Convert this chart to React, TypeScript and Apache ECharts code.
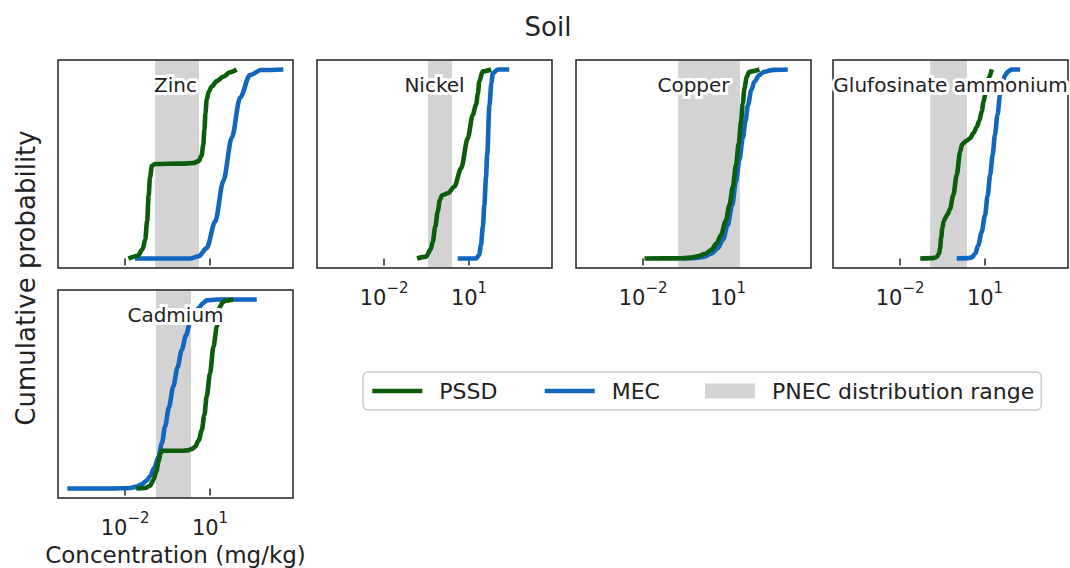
import React, { useEffect, useRef } from 'react';
import * as echarts from 'echarts';

// ---- data (x = log10 concentration in mg/kg, y = cumulative probability) ----
const panelNames = ['Zinc', 'Nickel', 'Copper', 'Glufosinate ammonium', 'Cadmium'];
const xTickExponents = [-2, 1];

const zincPSSD: number[][] = [
  [-1.88, 0], [-1.55, 0.015], [-1.38, 0.05], [-1.29, 0.1], [-1.22, 0.2], [-1.17, 0.33], [-1.12, 0.43],
  [-1.05, 0.49], [-0.95, 0.5], [0.0, 0.502], [0.4, 0.505], [0.6, 0.515], [0.7, 0.545], [0.76, 0.6],
  [0.8, 0.68], [0.84, 0.77], [0.88, 0.84], [0.96, 0.885], [1.06, 0.91], [1.25, 0.94], [1.47, 0.962],
  [1.7, 0.985], [1.94, 1.0],
];
const zincMEC: number[][] = [
  [-1.65, 0], [0.3, 0], [0.6, 0.012], [0.88, 0.055], [1.18, 0.195], [1.47, 0.41], [1.77, 0.64],
  [2.06, 0.85], [2.41, 0.97], [2.8, 0.997], [3.59, 1.0],
];
const nickelPSSD: number[][] = [
  [-0.835, 0], [-0.52, 0.01], [-0.35, 0.05], [-0.28, 0.09], [-0.19, 0.17], [-0.105, 0.25], [-0.03, 0.31],
  [0.05, 0.335], [0.25, 0.345], [0.48, 0.38], [0.72, 0.477], [0.955, 0.636], [1.13, 0.759], [1.25, 0.815],
  [1.31, 0.87], [1.36, 0.935], [1.48, 0.99], [1.78, 1.0],
];
const nickelMEC: number[][] = [
  [0.6, 0], [1.25, 0], [1.36, 0.02], [1.42, 0.07], [1.49, 0.17], [1.54, 0.283], [1.6, 0.43], [1.64, 0.548],
  [1.72, 0.81], [1.79, 0.93], [1.84, 0.98], [2.01, 1.0], [2.42, 1.0],
];
const copperPSSD: number[][] = [
  [-1.95, 0], [-0.78, 0.001], [-0.3, 0.005], [-0.07, 0.012], [0.2, 0.025], [0.4, 0.045], [0.6, 0.08],
  [0.75, 0.124], [0.92, 0.2], [1.05, 0.283], [1.17, 0.38], [1.28, 0.495], [1.38, 0.61], [1.46, 0.724],
  [1.52, 0.82], [1.58, 0.9], [1.66, 0.96], [1.75, 0.988], [2.11, 1.0],
];
const copperMEC: number[][] = [
  [-0.66, 0], [-0.2, 0.002], [0.16, 0.01], [0.4, 0.025], [0.64, 0.054], [0.82, 0.1], [0.99, 0.177],
  [1.14, 0.28], [1.28, 0.406], [1.4, 0.52], [1.52, 0.636], [1.62, 0.73], [1.7, 0.81], [1.82, 0.89],
  [1.93, 0.935], [2.1, 0.97], [2.28, 0.988], [2.6, 0.998], [3.11, 1.0],
];
const glufosinatePSSD: number[][] = [
  [-1.29, 0], [-0.85, 0.002], [-0.7, 0.008], [-0.63, 0.025], [-0.59, 0.054], [-0.55, 0.11], [-0.51, 0.16],
  [-0.46, 0.195], [-0.41, 0.213], [-0.32, 0.235], [-0.24, 0.26], [-0.12, 0.336], [0.0, 0.442],
  [0.12, 0.565], [0.18, 0.6], [0.23, 0.61], [0.35, 0.623], [0.47, 0.636], [0.6, 0.665], [0.71, 0.697],
  [0.8, 0.73], [0.88, 0.777], [0.95, 0.83], [1.0, 0.865], [1.06, 0.91], [1.12, 0.953], [1.24, 1.0],
];
const glufosinateMEC: number[][] = [
  [0.0, 0], [0.4, 0.002], [0.53, 0.006], [0.65, 0.025], [0.76, 0.07], [0.88, 0.14], [1.0, 0.23],
  [1.09, 0.33], [1.18, 0.442], [1.27, 0.55], [1.35, 0.655], [1.44, 0.76], [1.53, 0.865], [1.62, 0.93],
  [1.71, 0.97], [1.82, 0.99], [1.94, 1.0], [2.24, 1.0],
];
const cadmiumPSSD: number[][] = [
  [-1.61, 0], [-1.29, 0.003], [-1.12, 0.015], [-1.0, 0.045], [-0.9, 0.09], [-0.82, 0.142], [-0.75, 0.185],
  [-0.7, 0.2], [0.0, 0.2], [0.23, 0.202], [0.37, 0.21], [0.47, 0.221], [0.6, 0.255], [0.71, 0.31],
  [0.8, 0.39], [0.88, 0.486], [1.0, 0.61], [1.12, 0.75], [1.24, 0.856], [1.35, 0.962], [1.45, 0.985],
  [1.53, 0.994], [1.82, 1.0],
];
const cadmiumMEC: number[][] = [
  [-4.04, 0], [-2.5, 0.0], [-1.82, 0.003], [-1.6, 0.01], [-1.41, 0.022], [-1.25, 0.04], [-1.12, 0.065],
  [-0.97, 0.11], [-0.82, 0.168], [-0.7, 0.24], [-0.59, 0.327], [-0.45, 0.43], [-0.3, 0.539],
  [-0.15, 0.64], [0.0, 0.733], [0.15, 0.81], [0.29, 0.874], [0.44, 0.92], [0.59, 0.953], [0.75, 0.98],
  [0.88, 0.995], [1.24, 1.0], [2.65, 1.0],
];
// PNEC distribution range (log10 mg/kg), per panel
const pnecRanges: number[][] = [
  [-0.94, 0.61], [-0.45, 0.4], [-0.76, 1.42], [-0.94, 0.36], [-0.91, 0.33],
];
const pssdSeries = [zincPSSD, nickelPSSD, copperPSSD, glufosinatePSSD, cadmiumPSSD];
const mecSeries = [zincMEC, nickelMEC, copperMEC, glufosinateMEC, cadmiumMEC];

// ---- layout / style ----
const FONT = 'DejaVu Sans';
const TEXT = '#222222';
const GREEN = '#0b5d0b';
const BLUE = '#1167be';
const GRAY = '#d3d3d3';
const LINE_W = 4.6;
const PANEL_W = 235;
const PANEL_H = 208;
const panelPos = [[58, 60], [317, 60], [576, 60], [833, 60], [58, 290]];
const X_MIN = -4.37;
const X_MAX = 3.93;

export default function App() {
  const ref = useRef<HTMLDivElement>(null);
  useEffect(() => {
    if (!ref.current) return;
    const chart = echarts.init(ref.current, undefined, { renderer: 'svg' });

    const grids = panelPos.map(([l, t]) => ({
      left: l, top: t, width: PANEL_W, height: PANEL_H, show: false, containLabel: false, outerBoundsMode: 'none',
    }));

    const xAxes = panelPos.map((_, i) => ({
      type: 'value', gridIndex: i, min: X_MIN, max: X_MAX,
      splitLine: { show: false },
      axisLine: { show: false },
      axisTick: {
        show: true, customValues: xTickExponents, length: 7, inside: false,
        lineStyle: { color: TEXT, width: 1.5 },
      },
      axisLabel: {
        show: i !== 0, customValues: xTickExponents, margin: 12,
        formatter: (v: number) => `{b|10}{s|${v < 0 ? '\u2212' : ''}${Math.abs(v)}}`,
        rich: {
          b: { fontSize: 21, fontFamily: FONT, color: TEXT, padding: [7, 0, 0, 0] },
          s: { fontSize: 15, fontFamily: FONT, color: TEXT, verticalAlign: 'top' },
        },
      },
      name: i === 4 ? 'Concentration (mg/kg)' : '',
      nameLocation: 'middle', nameGap: 45,
      nameTextStyle: { fontSize: 23, fontFamily: FONT, color: TEXT },
    }));

    const yAxes = panelPos.map((_, i) => ({
      type: 'value', gridIndex: i, min: -0.05, max: 1.05, show: false,
      splitLine: { show: false },
    }));

    const series: any[] = [];
    panelPos.forEach((_, i) => {
      series.push({
        name: 'PNEC distribution range', type: 'line', xAxisIndex: i, yAxisIndex: i, data: [],
        itemStyle: { color: GRAY }, lineStyle: { color: GRAY }, z: 1,
        markArea: {
          silent: true, itemStyle: { color: GRAY, opacity: 1 },
          data: [[{ xAxis: pnecRanges[i][0] }, { xAxis: pnecRanges[i][1] }]],
        },
      });
      series.push({
        name: 'MEC', type: 'line', xAxisIndex: i, yAxisIndex: i, data: mecSeries[i],
        symbol: 'none', showSymbol: false, smooth: 0.3, smoothMonotone: 'x', z: 3,
        lineStyle: { color: BLUE, width: LINE_W }, itemStyle: { color: BLUE },
      });
      series.push({
        name: 'PSSD', type: 'line', xAxisIndex: i, yAxisIndex: i, data: pssdSeries[i],
        symbol: 'none', showSymbol: false, smooth: 0.3, smoothMonotone: 'x', z: 4,
        lineStyle: { color: GREEN, width: LINE_W }, itemStyle: { color: GREEN },
      });
    });

    const graphics: any[] = [];
    panelPos.forEach(([l, t], i) => {
      graphics.push({
        type: 'rect', z: 10, silent: true,
        shape: { x: l, y: t, width: PANEL_W, height: PANEL_H },
        style: { fill: 'transparent', stroke: TEXT, lineWidth: 1.5 },
      });
      graphics.push({
        type: 'text', z: 11, silent: true, x: l + PANEL_W / 2, y: t + 25,
        style: {
          text: panelNames[i], fontSize: 20, fontFamily: FONT, fill: '#ffffff',
          stroke: '#ffffff', lineWidth: 6, align: 'center', verticalAlign: 'middle',
        },
      });
      graphics.push({
        type: 'text', z: 12, silent: true, x: l + PANEL_W / 2, y: t + 25,
        style: {
          text: panelNames[i], fontSize: 20, fontFamily: FONT, fill: TEXT,
          align: 'center', verticalAlign: 'middle',
        },
      });
    });
    graphics.push({
      type: 'text', z: 12, silent: true, x: 548, y: 27,
      style: { text: 'Soil', fontSize: 26, fontFamily: FONT, fill: TEXT, align: 'center', verticalAlign: 'middle' },
    });
    graphics.push({
      type: 'text', z: 12, silent: true, x: 26, y: 278, rotation: Math.PI / 2,
      style: {
        text: 'Cumulative probability', fontSize: 26, fontFamily: FONT, fill: TEXT,
        align: 'center', verticalAlign: 'middle',
      },
    });

    const hiddenSymbol = { color: 'rgba(0,0,0,0)', borderWidth: 0, opacity: 0 };
    chart.setOption({
      animation: false,
      textStyle: { fontFamily: FONT, color: TEXT },
      grid: grids,
      xAxis: xAxes,
      yAxis: yAxes,
      series,
      legend: {
        left: 363, top: 372, orient: 'horizontal', selectedMode: false,
        data: [
          { name: 'PSSD', itemStyle: hiddenSymbol, lineStyle: { color: GREEN, width: LINE_W, cap: 'butt' } },
          { name: 'MEC', itemStyle: hiddenSymbol, lineStyle: { color: BLUE, width: LINE_W, cap: 'butt' } },
          { name: 'PNEC distribution range', icon: 'rect' },
        ],
        itemWidth: 50, itemHeight: 15, itemGap: 45,
        padding: [8, 7, 8, 7],
        borderColor: '#cccccc', borderWidth: 1.5, borderRadius: 5, backgroundColor: '#ffffff',
        textStyle: { fontSize: 22, fontFamily: FONT, color: TEXT, padding: [0, 0, 0, 12] },
      },
      graphic: graphics,
    });
    return () => chart.dispose();
  }, []);
  return (
    <div
      ref={ref}
      style={{ position: 'absolute', left: 0, top: 0, width: 1070, height: 568, background: '#ffffff' }}
    />
  );
}
